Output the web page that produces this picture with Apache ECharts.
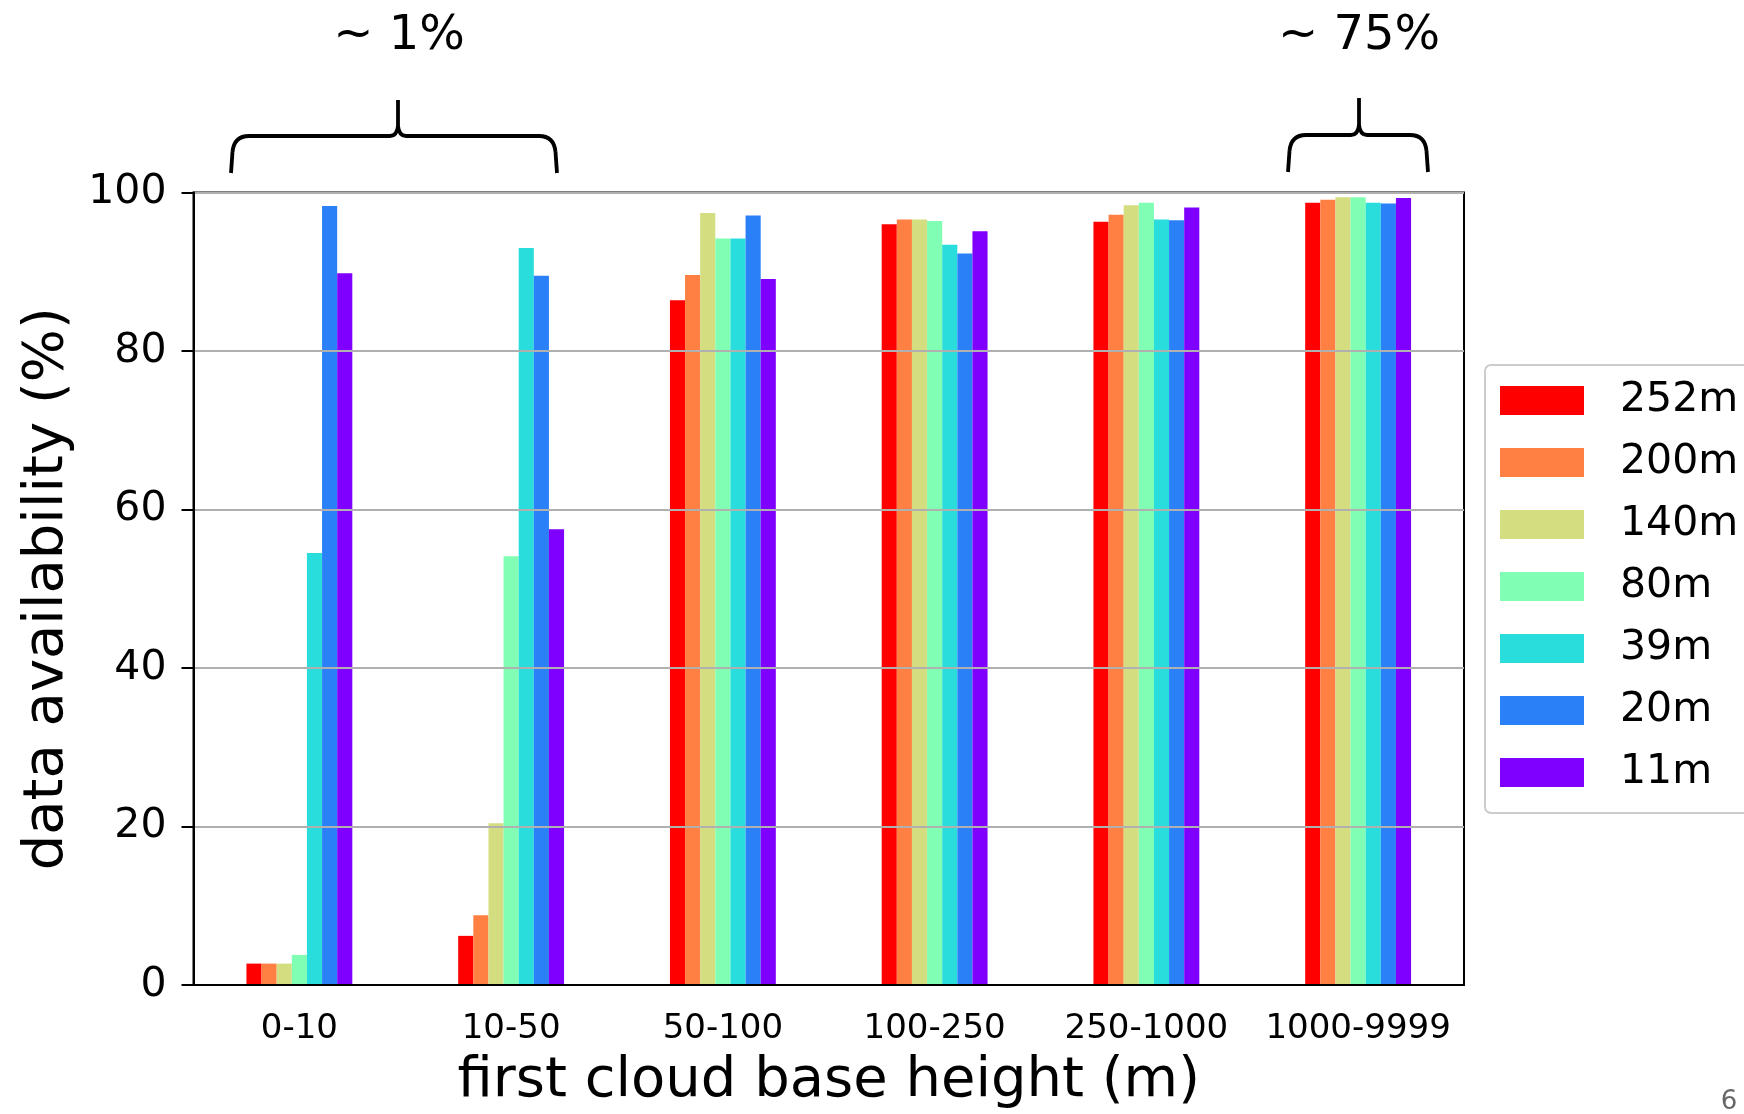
<!DOCTYPE html>
<html>
<head>
<meta charset="utf-8">
<script src="https://cdn.jsdelivr.net/npm/echarts@6/dist/echarts.min.js"></script>
<style>
  html, body { margin: 0; padding: 0; background: #ffffff; }
  #chart { width: 1744px; height: 1114px; }
</style>
</head>
<body>
<div id="chart"></div>
<script>
// Cloud-base height classes on the x axis
const categories = ['0-10', '10-50', '50-100', '100-250', '250-1000', '1000-9999'];

// Measurement heights (one bar series each)
const seriesNames = ['252m', '200m', '140m', '80m', '39m', '20m', '11m'];

// Data availability (%) per height, one value per cloud-base class
const avail252 = [2.7, 6.2, 86.4, 96.0, 96.3, 98.7];
const avail200 = [2.7, 8.8, 89.6, 96.6, 97.2, 99.1];
const avail140 = [2.7, 20.4, 97.4, 96.6, 98.4, 99.4];
const avail80  = [3.8, 54.1, 94.2, 96.4, 98.7, 99.4];
const avail39  = [54.5, 93.0, 94.2, 93.4, 96.6, 98.7];
const avail20  = [98.3, 89.5, 97.1, 92.3, 96.5, 98.6];
const avail11  = [89.8, 57.5, 89.1, 95.1, 98.1, 99.3];

// y axis ticks
const yTicks = [0, 20, 40, 60, 80, 100];

// Share-of-cases notes over the brackets
const noteLabels = ['~ 1%', '~ 75%'];

const seriesValues = [avail252, avail200, avail140, avail80, avail39, avail20, avail11];
const seriesColors = ['#ff0000', '#ff8042', '#d4dd80', '#80ffb4', '#2adddd', '#2a80f6', '#8000ff'];

const FONT = 'DejaVu Sans';
const BRACE_STYLE = { stroke: '#000000', lineWidth: 3.8, fill: null, lineCap: 'butt', lineJoin: 'round' };

// Curly bracket opening downwards, built from straight and curved pieces
function brace(x0, x1, xc, yBottom, yMid, yTop) {
  const seg = (a, b, c, d) => ({ type: 'line', shape: { x1: a, y1: b, x2: c, y2: d }, style: BRACE_STYLE });
  const curve = (a, b, cx, cy, c, d) => ({
    type: 'bezierCurve',
    shape: { x1: a, y1: b, cpx1: cx, cpy1: cy, x2: c, y2: d },
    style: BRACE_STYLE
  });
  return {
    type: 'group',
    children: [
      seg(x0, yBottom, x0 + 1.5, yMid + 16),
      curve(x0 + 1.5, yMid + 16, x0 + 3, yMid, x0 + 18, yMid),
      seg(x0 + 18, yMid, xc - 8, yMid),
      curve(xc - 8, yMid, xc - 1, yMid, xc, yMid - 10),
      seg(xc, yMid - 10, xc, yTop),
      curve(xc, yMid - 10, xc + 1, yMid, xc + 8, yMid),
      seg(xc + 8, yMid, x1 - 18, yMid),
      curve(x1 - 18, yMid, x1 - 3, yMid, x1 - 1.5, yMid + 16),
      seg(x1 - 1.5, yMid + 16, x1, yBottom)
    ]
  };
}

const chart = echarts.init(document.getElementById('chart'), null, { renderer: 'canvas' });

const option = {
  backgroundColor: '#ffffff',
  animation: false,
  textStyle: { fontFamily: FONT },
  grid: {
    left: 193.5,
    right: 280,
    top: 192.5,
    bottom: 126,
    show: true,
    borderColor: '#000000',
    borderWidth: 2,
    backgroundColor: 'transparent'
  },
  legend: {
    orient: 'vertical',
    left: 1485,
    top: 365,
    padding: [15, 40, 20, 15],
    itemWidth: 84,
    itemHeight: 29,
    itemGap: 21,
    icon: 'rect',
    backgroundColor: '#ffffff',
    borderColor: '#cccccc',
    borderWidth: 2,
    borderRadius: 6,
    textStyle: {
      fontFamily: FONT,
      fontSize: 41,
      color: '#000000',
      padding: [0, 0, 0, 31]
    },
    data: seriesNames
  },
  xAxis: {
    type: 'category',
    data: categories,
    z: 5,
    boundaryGap: true,
    name: 'first cloud base height (m)',
    nameLocation: 'middle',
    nameGap: 68,
    nameTextStyle: { fontFamily: FONT, fontSize: 56, color: '#000000' },
    axisLine: { lineStyle: { color: '#000000', width: 2 } },
    axisTick: { alignWithLabel: true, interval: 0, length: 12, lineStyle: { color: '#000000', width: 2 } },
    axisLabel: { interval: 0, fontFamily: FONT, fontSize: 34, color: '#000000', margin: 27 },
    splitLine: { show: false }
  },
  yAxis: {
    type: 'value',
    min: yTicks[0],
    max: yTicks[yTicks.length - 1],
    interval: yTicks[1] - yTicks[0],
    z: 5,
    name: 'data availability (%)',
    nameLocation: 'middle',
    nameGap: 118,
    nameTextStyle: { fontFamily: FONT, fontSize: 56, color: '#000000' },
    axisLine: { show: true, lineStyle: { color: '#000000', width: 2 } },
    axisTick: { show: true, length: 12, lineStyle: { color: '#000000', width: 2 } },
    axisLabel: { fontFamily: FONT, fontSize: 41, color: '#000000', margin: 27 },
    splitLine: { show: true, lineStyle: { color: '#b0b0b0', width: 2 } }
  },
  series: seriesNames.map((name, i) => ({
    name: name,
    type: 'bar',
    data: seriesValues[i],
    barGap: '0%',
    barCategoryGap: '50%',
    itemStyle: { color: seriesColors[i] },
    z: 2
  })),
  graphic: [
    brace(231, 557, 398, 173, 136, 100),
    brace(1288, 1428, 1359, 172, 135, 98),
    {
      type: 'text',
      x: 399, y: 37,
      style: { text: noteLabels[0], font: '48px "DejaVu Sans"', fill: '#000000', align: 'center', verticalAlign: 'middle' }
    },
    {
      type: 'text',
      x: 1359, y: 37,
      style: { text: noteLabels[1], font: '48px "DejaVu Sans"', fill: '#000000', align: 'center', verticalAlign: 'middle' }
    },
    {
      type: 'text',
      x: 1729, y: 1102,
      style: { text: '6', font: '26px "DejaVu Sans"', fill: '#666666', align: 'center', verticalAlign: 'middle' }
    }
  ]
};

chart.setOption(option);
</script>
</body>
</html>
